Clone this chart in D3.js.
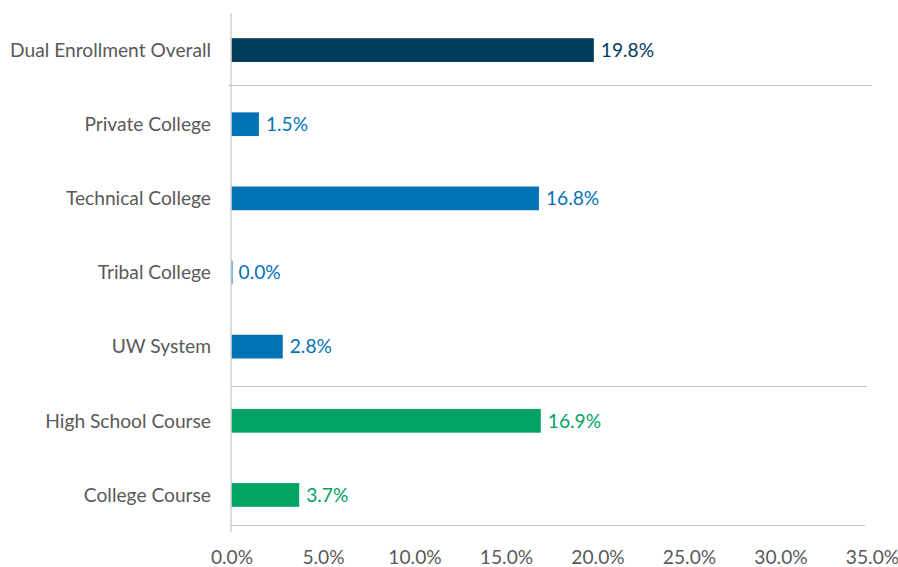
<!DOCTYPE html>
<html>
<head>
<meta charset="utf-8">
<script src="https://cdn.jsdelivr.net/npm/d3@7"></script>
<style>
  html, body { margin: 0; padding: 0; background: #fff; }
  svg text { font-family: Lato, "Open Sans", sans-serif; }
</style>
</head>
<body>
<svg id="chart" width="898" height="567"></svg>
<script>
// Dual enrollment share by provider / course type
const categories = [
  "Dual Enrollment Overall",
  "Private College",
  "Technical College",
  "Tribal College",
  "UW System",
  "High School Course",
  "College Course"
];
const values = [19.8, 1.5, 16.8, 0.0, 2.8, 16.9, 3.7];
const groups = ["overall", "provider", "provider", "provider", "provider", "course", "course"];
const tickValues = [0, 5, 10, 15, 20, 25, 30, 35];

const colors = { overall: "#023c5b", provider: "#0073b7", course: "#00a364" };

const svg = d3.select("#chart");
const plotLeft = 231.5, plotRight = 872, plotTop = 13, plotBottom = 532;
const fontSize = 19.2;

const x = d3.scaleLinear().domain([0, 35]).range([plotLeft, plotRight]);
const y = d3.scaleBand().domain(categories).range([plotTop, plotBottom]).paddingInner(0.68).paddingOuter(0.34);

const grid = "#c6c6c6";
const textGray = "#595959";

// separator lines between groups and baseline
svg.append("line").attr("x1", 228).attr("x2", 872).attr("y1", 85.5).attr("y2", 85.5)
  .attr("stroke", grid).attr("stroke-width", 1.2);
svg.append("line").attr("x1", 231).attr("x2", 867).attr("y1", 386.5).attr("y2", 386.5)
  .attr("stroke", grid).attr("stroke-width", 1.2);
svg.append("line").attr("x1", 230).attr("x2", 865).attr("y1", 525.5).attr("y2", 525.5)
  .attr("stroke", grid).attr("stroke-width", 1.2);

// bars
svg.selectAll("rect.bar").data(categories).enter().append("rect")
  .attr("class", "bar")
  .attr("x", x(0))
  .attr("y", d => y(d))
  .attr("width", (d, i) => Math.max(x(values[i]) - x(0), 1))
  .attr("height", y.bandwidth())
  .attr("fill", (d, i) => colors[groups[i]]);

// vertical axis line
svg.append("line").attr("x1", 231).attr("x2", 231).attr("y1", plotTop).attr("y2", plotBottom)
  .attr("stroke", grid).attr("stroke-width", 1.2);

// category labels
svg.selectAll("text.cat").data(categories).enter().append("text")
  .attr("class", "cat")
  .attr("x", 211)
  .attr("y", d => y(d) + y.bandwidth() / 2)
  .attr("dy", "0.35em")
  .attr("text-anchor", "end")
  .attr("font-size", fontSize)
  .attr("fill", textGray)
  .text(d => d);

// value labels
svg.selectAll("text.val").data(categories).enter().append("text")
  .attr("class", "val")
  .attr("x", (d, i) => x(values[i]) + 7)
  .attr("y", d => y(d) + y.bandwidth() / 2)
  .attr("dy", "0.35em")
  .attr("font-size", fontSize)
  .attr("fill", (d, i) => colors[groups[i]])
  .text((d, i) => values[i].toFixed(1) + "%");

// x axis tick labels
const xAxis = d3.axisBottom(x).tickValues(tickValues).tickSize(0).tickPadding(0)
  .tickFormat(d => d.toFixed(1) + "%");
const gx = svg.append("g").attr("transform", "translate(0,550)").call(xAxis);
gx.select(".domain").remove();
gx.selectAll("text").attr("font-size", fontSize).attr("fill", textGray)
  .attr("font-family", "Lato, 'Open Sans', sans-serif");
</script>
</body>
</html>
